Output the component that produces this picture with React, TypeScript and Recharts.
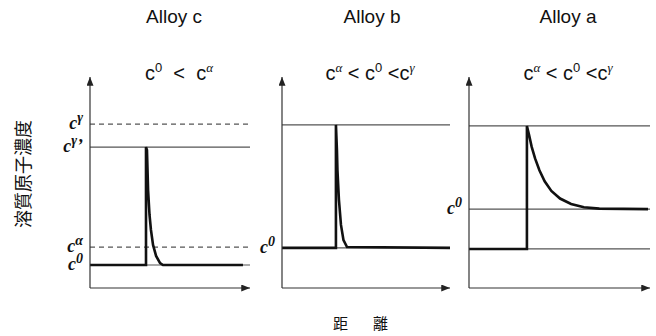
import React from "react";
import { LineChart, Line, XAxis, YAxis, ReferenceLine, Customized } from "recharts";

// concentration profiles (distance 0-100, concentration 0-100)
const distC = [0, 35, 35, 35.6, 36.3, 37.2, 38.1, 39.4, 41.3, 43.8, 45.6, 95.6];
const concC = [10.9, 10.9, 66.8, 65.4, 46.4, 34.6, 27.5, 20.4, 15.2, 11.8, 10.9, 10.9];
const distB = [0, 32.1, 32.1, 32.7, 33.0, 33.9, 35.1, 36.6, 38.7, 100];
const concB = [19.0, 19.0, 77.3, 65.4, 55.9, 41.7, 29.9, 22.7, 19.4, 19.0];
const distA = [0, 32, 32, 33.2, 34.6, 36.5, 38.9, 41.8, 45.5, 50.3, 56.4, 63.5, 72, 98.9];
const concA = [18.5, 18.5, 76.8, 72.5, 67.0, 61.4, 55.8, 50.6, 46.0, 42.4, 39.8, 38.3, 37.6, 37.4];

// horizontal reference levels and their names (superscript of "c")
const levelsC = [77.7, 66.8, 19.4, 10.9];
const levelNamesC = ["γ", "γ’", "α", "0"];
const levelsB = [77.3, 19.0];
const levelNamesB = ["", "0"];
const levelsA = [76.8, 37.4, 18.5];
const levelNamesA = ["", "0", ""];

const titles = ["Alloy c", "Alloy b", "Alloy a"];
const conditions = ["c^0  <  c^α", "c^α < c^0 <c^γ", "c^α < c^0 <c^γ"];
const yLabel = "溶質原子濃度";
const xLabel = "距　離";

const sans = "'Liberation Sans', Arial, sans-serif";
const serif = "'Liberation Serif', 'Times New Roman', serif";
const cjk = "'Noto Sans CJK JP', sans-serif";

function zip(xs: number[], ys: number[]) {
  return xs.map((x, i) => ({ x, y: ys[i] }));
}

// split "c^0 < c^α" into tspans with raised superscripts
function supSpans(text: string, base: number, sup: number, shift: number, supFont?: string) {
  const parts = text.split(/\^(.)/);
  let raised = false;
  const out: React.ReactNode[] = [];
  parts.forEach((p, i) => {
    if (!p) return;
    const isSup = i % 2 === 1;
    const dy = isSup === raised ? 0 : isSup ? -shift : shift;
    raised = isSup;
    const greek = isSup && supFont && /[^0-9]/.test(p);
    out.push(
      <tspan
        key={i}
        dy={dy}
        fontSize={isSup ? sup : base}
        fontFamily={greek ? supFont : undefined}
        fontStyle={greek ? "italic" : undefined}
      >
        {p}
      </tspan>
    );
  });
  return out;
}

const levelLabel = (name: string) => (props: any) => {
  const vb = props.viewBox;
  if (!name || !vb) return null;
  return (
    <text
      x={vb.x - 7}
      y={vb.y + 5}
      textAnchor="end"
      fontFamily={serif}
      fontStyle="italic"
      fontWeight="bold"
      fill="#111"
    >
      {supSpans("c^" + name, 18, 14, 7)}
    </text>
  );
};

interface PanelProps {
  id: string;
  left: number;
  width: number;
  marginLeft: number;
  dist: number[];
  conc: number[];
  levels: number[];
  names: string[];
  title: string;
  condition: string;
  titleX: number;
  condX: number;
  dashedNames?: string[];
  withYLabel?: boolean;
  withXLabel?: boolean;
}

function Panel(p: PanelProps) {
  const data = zip(p.dist, p.conc);
  const marker = `arrow-${p.id}`;
  return (
    <div style={{ position: "absolute", left: p.left, top: 0 }}>
      <LineChart
        width={p.width}
        height={336}
        data={data}
        margin={{ top: 77, right: 6, bottom: 47, left: p.marginLeft - 1 }}
      >
        <defs>
          <marker
            id={marker}
            viewBox="0 0 10 8"
            refX={10}
            refY={4}
            markerWidth={9}
            markerHeight={7}
            markerUnits="userSpaceOnUse"
            orient="auto-start-reverse"
          >
            <path d="M0,0 L10,4 L0,8 z" fill="#222" />
          </marker>
        </defs>
        <XAxis
          type="number"
          dataKey="x"
          domain={[0, 100]}
          height={1}
          tick={false}
          tickLine={false}
          axisLine={{ stroke: "#333", strokeWidth: 1.2, markerEnd: `url(#${marker})` }}
          label={
            p.withXLabel
              ? (props: any) => {
                  const vb = props.viewBox;
                  return (
                    <text
                      x={vb.x + vb.width / 2 - 3}
                      y={vb.y + 41}
                      textAnchor="middle"
                      fontFamily={cjk}
                      fontSize={15}
                      letterSpacing={5}
                      fill="#111"
                    >
                      {xLabel}
                    </text>
                  );
                }
              : undefined
          }
        />
        <YAxis
          type="number"
          domain={[0, 100]}
          width={1}
          tick={false}
          tickLine={false}
          axisLine={{ stroke: "#333", strokeWidth: 1.2, markerStart: `url(#${marker})` }}
        />
        {p.levels.map((v, i) => (
          <ReferenceLine
            key={i}
            y={v}
            stroke="#555"
            strokeWidth={1.2}
            strokeDasharray={p.dashedNames?.includes(p.names[i]) ? "5 4" : undefined}
            label={levelLabel(p.names[i])}
          />
        ))}
        <Line
          type="linear"
          dataKey="y"
          stroke="#111"
          strokeWidth={2.6}
          dot={false}
          isAnimationActive={false}
        />
        <Customized
          component={() => (
            <g>
              <text x={p.titleX} y={23} textAnchor="middle" fontFamily={sans} fontSize={19} fill="#111">
                {p.title}
              </text>
              <text
                x={p.condX}
                y={80}
                textAnchor="middle"
                fontFamily={sans}
                fontSize={20}
                fill="#111"
                style={{ whiteSpace: "pre" }}
              >
                {supSpans(p.condition, 20, 13, 8, serif)}
              </text>
              {p.withYLabel && (
                <text
                  x={22}
                  y={174}
                  transform="rotate(-90, 22, 174)"
                  textAnchor="middle"
                  dominantBaseline="central"
                  fontFamily={cjk}
                  fontSize={18}
                  fill="#111"
                >
                  {yLabel}
                </text>
              )}
            </g>
          )}
        />
      </LineChart>
    </div>
  );
}

export default function App() {
  return (
    <div
      style={{
        position: "absolute",
        left: 0,
        top: 0,
        width: 656,
        height: 336,
        background: "#fff",
      }}
    >
      <Panel
        id="c"
        left={0}
        width={256}
        marginLeft={90}
        dist={distC}
        conc={concC}
        levels={levelsC}
        names={levelNamesC}
        title={titles[0]}
        condition={conditions[0]}
        titleX={174}
        condX={179}
        dashedNames={["γ", "α"]}
        withYLabel
      />
      <Panel
        id="b"
        left={236}
        width={220}
        marginLeft={46}
        dist={distB}
        conc={concB}
        levels={levelsB}
        names={levelNamesB}
        title={titles[1]}
        condition={conditions[1]}
        titleX={136}
        condX={134}
        withXLabel
      />
      <Panel
        id="a"
        left={420}
        width={236}
        marginLeft={49}
        dist={distA}
        conc={concA}
        levels={levelsA}
        names={levelNamesA}
        title={titles[2]}
        condition={conditions[2]}
        titleX={148}
        condX={148}
      />
    </div>
  );
}
